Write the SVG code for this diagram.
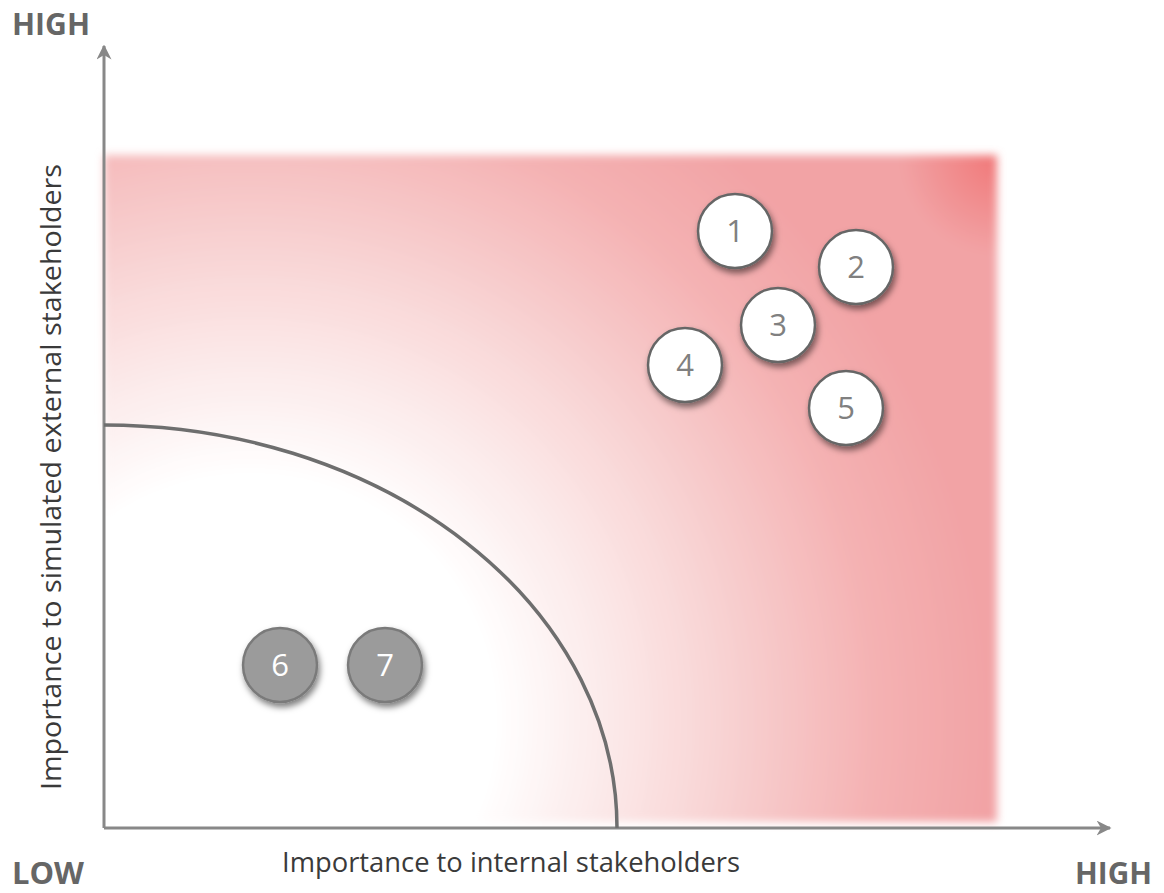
<svg xmlns="http://www.w3.org/2000/svg" width="1164" height="893" viewBox="0 0 1164 893">
<style>
.lbl{font-family:"Open Sans","Liberation Sans",sans-serif;fill:#3a3a3a}
.end{font-family:"Open Sans","Liberation Sans",sans-serif;font-weight:bold;fill:#666}
.num{font-family:"Open Sans","Liberation Sans",sans-serif;font-size:31px;text-anchor:middle}
.wc{fill:#fff;stroke:#666;stroke-width:2.5;filter:url(#sh)}
.gc{fill:#9b9b9b;stroke:#7a7a7a;stroke-width:2.5;filter:url(#sh)}
.axis{stroke:#888;stroke-width:3;fill:none}
</style>
<defs>
<radialGradient id="rg" gradientUnits="userSpaceOnUse" cx="250" cy="720" r="740">
<stop offset="0" stop-color="#ffffff"/>
<stop offset="0.33" stop-color="#ffffff"/>
<stop offset="0.6" stop-color="#f9d9d9"/>
<stop offset="0.85" stop-color="#f4b1b2"/>
<stop offset="1" stop-color="#f2a3a5"/>
</radialGradient>
<radialGradient id="corner" gradientUnits="userSpaceOnUse" cx="1000" cy="155" r="100">
<stop offset="0" stop-color="#f06464" stop-opacity="0.7"/>
<stop offset="1" stop-color="#f06464" stop-opacity="0"/>
</radialGradient>
<filter id="blur" x="-5%" y="-5%" width="110%" height="110%"><feGaussianBlur stdDeviation="4"/></filter>
<filter id="sh" x="-30%" y="-30%" width="170%" height="170%"><feDropShadow dx="2" dy="4" stdDeviation="3" flood-color="#000" flood-opacity="0.5"/></filter>
<marker id="ah" viewBox="0 0 10 10" refX="9" refY="5" markerWidth="5" markerHeight="5" orient="auto" markerUnits="strokeWidth"><path d="M0,0 L10,5 L0,10 L3,5 Z" fill="#888"/></marker>
</defs>
<rect width="1164" height="893" fill="#fff"/>
<g id="field" filter="url(#blur)">
<rect x="104" y="155" width="893" height="667" fill="url(#rg)"/>
<rect x="104" y="155" width="893" height="667" fill="url(#corner)"/>
</g>
<g id="connectors">
<path class="axis" d="M104,828 L104,46" marker-end="url(#ah)"/>
<path class="axis" d="M104,828 L1110,828" marker-end="url(#ah)"/>
<path d="M104,425 A513,403 0 0 1 617,828" fill="none" stroke="#6e6e6e" stroke-width="3.5"/>
</g>
<g id="labels">
<text class="end" x="12" y="35" font-size="30" textLength="78" lengthAdjust="spacingAndGlyphs">HIGH</text>
<text class="end" x="12" y="884" font-size="30" textLength="72" lengthAdjust="spacingAndGlyphs">LOW</text>
<text class="end" x="1075" y="884" font-size="30" textLength="77" lengthAdjust="spacingAndGlyphs">HIGH</text>
<text class="lbl" x="282" y="872" font-size="28" textLength="458" lengthAdjust="spacingAndGlyphs">Importance to internal stakeholders</text>
<text class="lbl" transform="translate(61,790) rotate(-90)" x="0" y="0" font-size="28" textLength="626" lengthAdjust="spacingAndGlyphs">Importance to simulated external stakeholders</text>
</g>
<g id="n1"><circle class="wc" cx="735" cy="231" r="37"/><text class="num" x="735" y="242" fill="#808080">1</text></g>
<g id="n2"><circle class="wc" cx="856" cy="267" r="37"/><text class="num" x="856" y="278" fill="#808080">2</text></g>
<g id="n3"><circle class="wc" cx="778" cy="325" r="37"/><text class="num" x="778" y="336" fill="#808080">3</text></g>
<g id="n4"><circle class="wc" cx="685" cy="365" r="37"/><text class="num" x="685" y="376" fill="#808080">4</text></g>
<g id="n5"><circle class="wc" cx="846" cy="408" r="37"/><text class="num" x="846" y="419" fill="#808080">5</text></g>
<g id="n6"><circle class="gc" cx="280" cy="665" r="37"/><text class="num" x="280" y="676" fill="#fff">6</text></g>
<g id="n7"><circle class="gc" cx="385" cy="665" r="37"/><text class="num" x="385" y="676" fill="#fff">7</text></g>
</svg>
